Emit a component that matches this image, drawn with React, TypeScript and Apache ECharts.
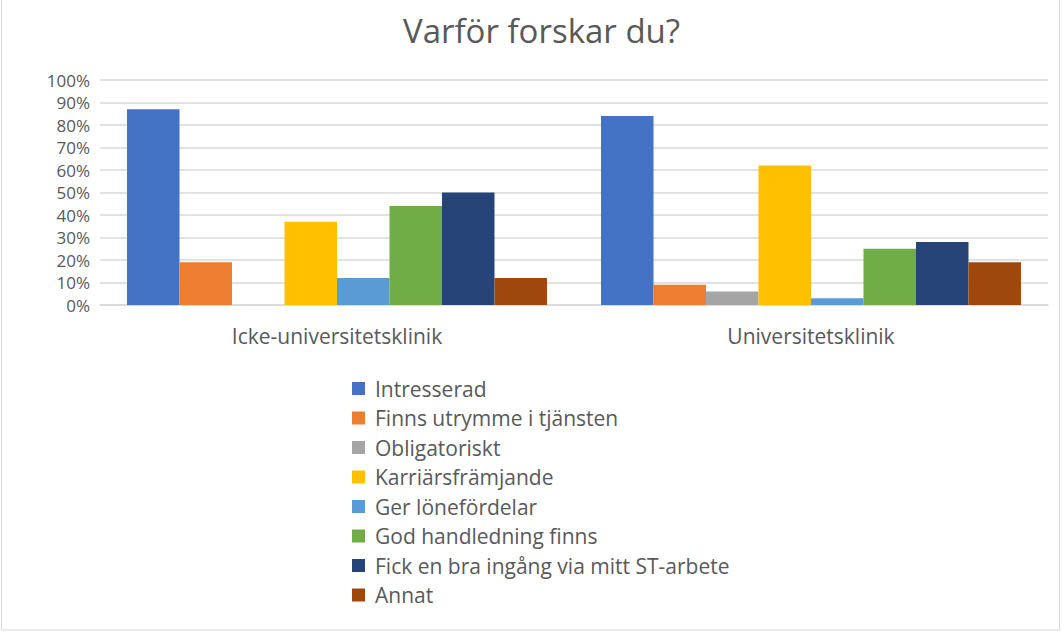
import React, { useEffect, useRef } from "react";
import * as echarts from "echarts";

const categories = ["Icke-universitetsklinik", "Universitetsklinik"];
const seriesNames = [
  "Intresserad",
  "Finns utrymme i tjänsten",
  "Obligatoriskt",
  "Karriärsfrämjande",
  "Ger lönefördelar",
  "God handledning finns",
  "Fick en bra ingång via mitt ST-arbete",
  "Annat",
];
const intresserad = [87, 84];
const finnsUtrymme = [19, 9];
const obligatoriskt = [0, 6];
const karriar = [37, 62];
const lonefordelar = [12, 3];
const handledning = [44, 25];
const stArbete = [50, 28];
const annat = [12, 19];
const seriesValues = [intresserad, finnsUtrymme, obligatoriskt, karriar, lonefordelar, handledning, stArbete, annat];
const colors = ["#4472C4", "#ED7D31", "#A5A5A5", "#FFC000", "#5B9BD5", "#70AD47", "#264478", "#9E480E"];

export default function App() {
  const ref = useRef<HTMLDivElement>(null);
  useEffect(() => {
    if (!ref.current) return;
    const chart = echarts.init(ref.current, null, { renderer: "svg" });
    const font = "'Open Sans', sans-serif";
    chart.setOption({
      animation: false,
      color: colors,
      textStyle: { fontFamily: font },
      title: {
        text: "Varför forskar du?",
        left: 398,
        top: 9,
        textStyle: { fontFamily: font, fontSize: 33, fontWeight: "normal", color: "#595959" },
      },
      graphic: [
        {
          type: "rect",
          shape: { x: 1.5, y: -2, width: 1058, height: 632 },
          style: { fill: "none", stroke: "#d9d9d9", lineWidth: 1 },
          silent: true,
        },
      ],
      legend: {
        orient: "vertical",
        left: 347,
        top: 373,
        height: 300,
        itemWidth: 13,
        itemHeight: 13,
        itemGap: 8.5,
        icon: "rect",
        textStyle: { fontFamily: font, fontSize: 21, lineHeight: 20, color: "#595959", padding: [0, 0, 0, 5] },
        data: seriesNames,
      },
      grid: { left: 100, right: 14, top: 80, bottom: 327, containLabel: false },
      xAxis: {
        type: "category",
        data: categories,
        axisLine: { lineStyle: { color: "#d9d9d9", width: 1.5 } },
        axisTick: { show: false },
        axisLabel: { fontFamily: font, fontSize: 21, color: "#595959", margin: 20 },
      },
      yAxis: {
        type: "value",
        min: 0,
        max: 100,
        interval: 10,
        axisLine: { show: false },
        axisTick: { show: false },
        splitLine: { lineStyle: { color: "#d9d9d9", width: 1.5 } },
        axisLabel: {
          fontFamily: font,
          fontSize: 17,
          lineHeight: 17,
          color: "#595959",
          margin: 10,
          formatter: "{value}%",
        },
      },
      series: seriesNames.map((name, i) => ({
        name,
        type: "bar",
        data: seriesValues[i],
        barGap: "0%",
        barCategoryGap: "11.4%",
      })),
    });
    return () => chart.dispose();
  }, []);
  return (
    <div
      ref={ref}
      style={{ position: "fixed", left: 0, top: 0, width: 1062, height: 632, background: "#fff" }}
    />
  );
}
